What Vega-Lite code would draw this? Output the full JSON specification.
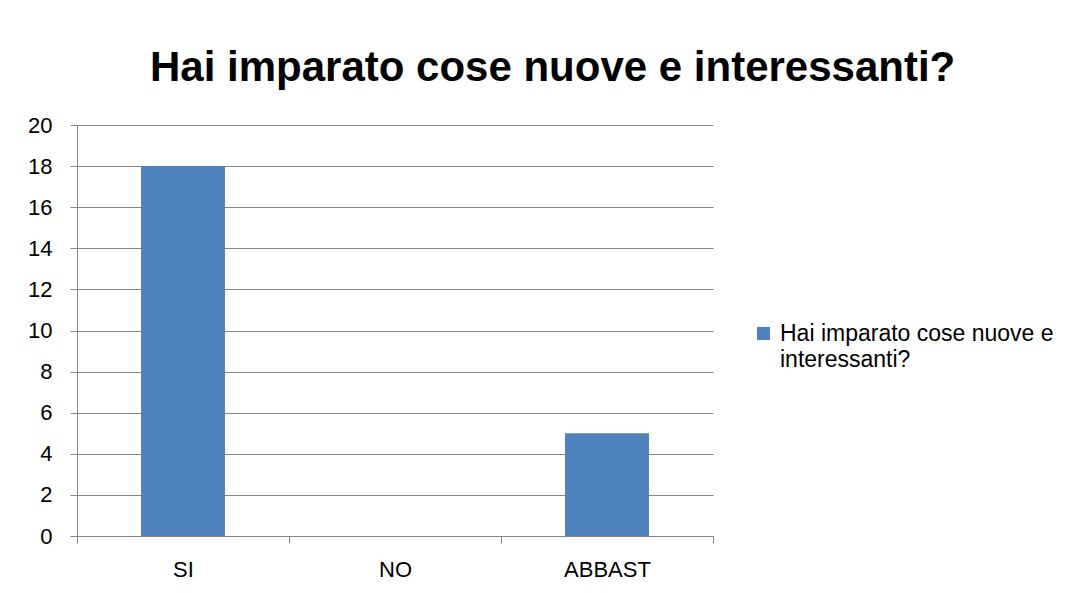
{
  "$schema": "https://vega.github.io/schema/vega-lite/v6.json",
  "width": 636,
  "height": 411,
  "autosize": {"type": "none"},
  "padding": {"left": 77, "top": 125, "right": 365, "bottom": 57},
  "background": "white",
  "title": {
    "text": "Hai imparato cose nuove e interessanti?",
    "font": "Liberation Sans",
    "fontSize": 42,
    "fontWeight": "bold",
    "color": "#000000",
    "anchor": "start",
    "frame": "group",
    "dx": 73,
    "baseline": "alphabetic",
    "offset": -9
  },
  "data": {
    "values": [
      {"risposta": "SI", "valore": 18, "serie": "Hai imparato cose nuove e interessanti?"},
      {"risposta": "NO", "valore": 0, "serie": "Hai imparato cose nuove e interessanti?"},
      {"risposta": "ABBAST", "valore": 5, "serie": "Hai imparato cose nuove e interessanti?"}
    ]
  },
  "mark": {"type": "bar", "width": {"band": 0.396}},
  "encoding": {
    "x": {
      "field": "risposta",
      "type": "nominal",
      "sort": null,
      "scale": {"paddingInner": 0, "paddingOuter": 0},
      "axis": {
        "title": null,
        "labelAngle": 0,
        "tickBand": "extent",
        "tickSize": 7,
        "tickColor": "#868686",
        "domainColor": "#868686",
        "labelPadding": 16,
        "labelFont": "Liberation Sans",
        "labelFontSize": 22,
        "labelColor": "#000000",
        "grid": false
      }
    },
    "y": {
      "field": "valore",
      "type": "quantitative",
      "scale": {"domain": [0, 20], "nice": false},
      "axis": {
        "title": null,
        "values": [0, 2, 4, 6, 8, 10, 12, 14, 16, 18, 20],
        "tickSize": 7,
        "tickColor": "#868686",
        "domainColor": "#868686",
        "gridColor": "#868686",
        "grid": true,
        "labelPadding": 18,
        "labelFont": "Liberation Sans",
        "labelFontSize": 22,
        "labelColor": "#000000"
      }
    },
    "color": {
      "field": "serie",
      "type": "nominal",
      "scale": {"range": ["#4F81BD"]},
      "legend": {
        "title": null,
        "orient": "none",
        "legendX": 675,
        "legendY": 197,
        "symbolType": "square",
        "symbolSize": 169,
        "symbolStrokeWidth": 0,
        "labelOffset": 5,
        "labelFont": "Liberation Sans",
        "labelFontSize": 23,
        "labelColor": "#000000",
        "labelLimit": 400,
        "labelExpr": "['Hai imparato cose nuove e', 'interessanti?']"
      }
    }
  },
  "config": {
    "view": {"stroke": null},
    "style": {"guide-label": {"lineHeight": 26}}
  }
}
